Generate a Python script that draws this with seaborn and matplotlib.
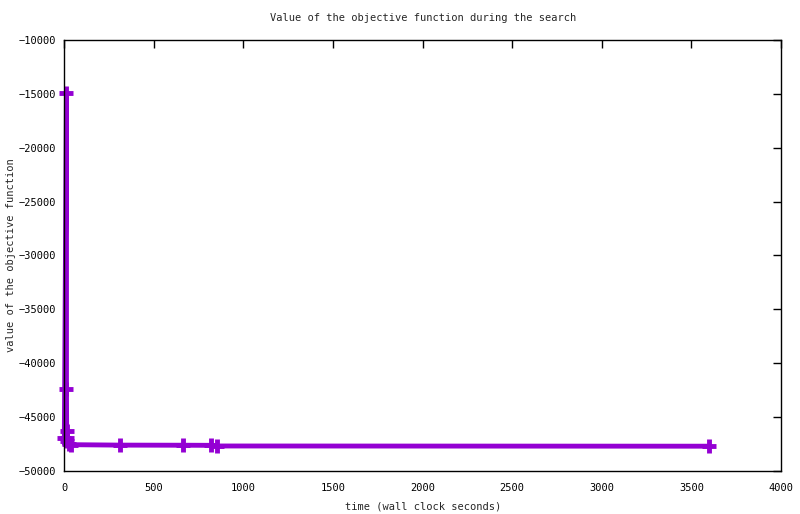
import numpy as np
import pandas as pd
import matplotlib
matplotlib.use("Agg")
import matplotlib.pyplot as plt
import seaborn as sns

# search trace
time_s = [0, 12, 12, 13, 14, 16, 25, 40, 311, 661, 820, 851, 3601]
objective = [-46900, -14900, -42400, -46260, -46900, -47260, -47450, -47560,
             -47600, -47610, -47620, -47680, -47700]

df = pd.DataFrame({"time": time_s, "value": objective})

sns.set_style("white")
plt.rcParams["font.family"] = ["DejaVu Sans Mono"]
plt.rcParams["font.size"] = 7.5

fig = plt.figure(figsize=(8, 5.14), dpi=100)
ax = fig.add_axes([0.0804, 0.0837, 0.8958, 0.8385])

sns.lineplot(data=df, x="time", y="value", sort=False, estimator=None,
             color="#9400d3", linewidth=3.5, marker="+", markersize=10,
             markeredgewidth=3.5, markeredgecolor="#9400d3", ax=ax)
for ln in ax.get_lines():
    ln.set_clip_on(False)

ax.set_xlim(0, 4000)
ax.set_ylim(-50000, -10000)
ax.set_xticks(np.arange(0, 4001, 500))
ax.set_yticks(np.arange(-50000, -9999, 5000))
ax.tick_params(direction="in", length=6, width=1, top=True, right=True,
               labelsize=7.5, colors="black")
ax.tick_params(axis="x", pad=9)
ax.tick_params(axis="y", pad=6)
for s in ax.spines.values():
    s.set_color("black")
    s.set_linewidth(1)

ax.set_title("Value of the objective function during the search", fontsize=7.5, pad=14)
ax.set_xlabel("time (wall clock seconds)", fontsize=7.5, labelpad=6)
ax.set_ylabel("value of the objective function", fontsize=7.5)
ax.yaxis.set_label_coords(-0.068, 0.5)

fig.savefig("out.png", dpi=100)
